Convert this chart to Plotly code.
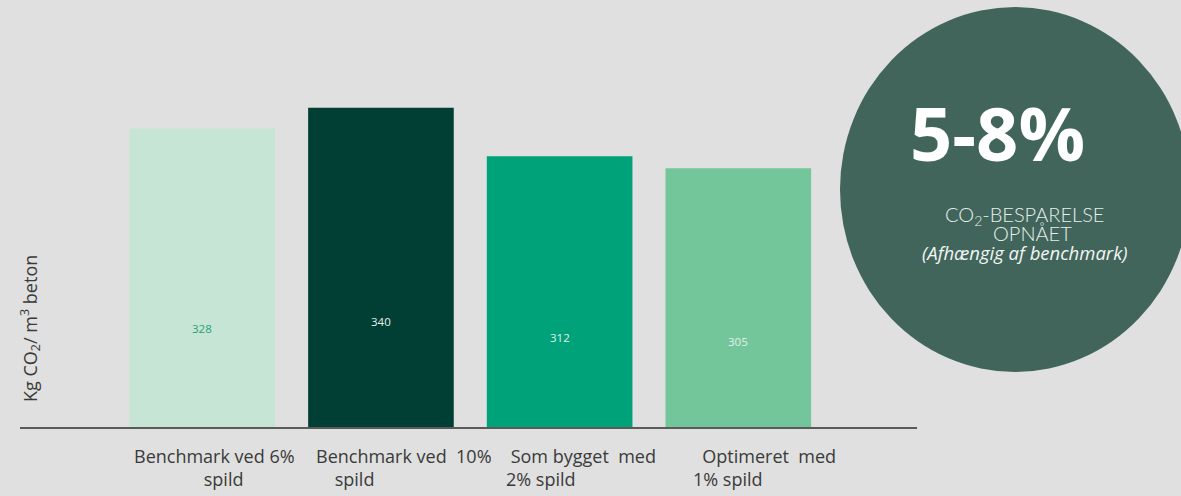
"""CO2 per m3 concrete: benchmark vs. as-built vs. optimised waste."""
import plotly.graph_objects as go

# data
categories = [
    "Benchmark ved 6% spild",
    "Benchmark ved 10% spild",
    "Som bygget med 2% spild",
    "Optimeret med 1% spild",
]
values = [328, 340, 312, 305]
tick_labels = [
    "Benchmark ved 6%<br>\u00a0\u00a0\u00a0\u00a0spild",
    "Benchmark ved\u00a0 10%<br>\u00a0\u00a0\u00a0\u00a0spild",
    "\u00a0Som bygget\u00a0 med<br>2%\u00a0spild",
    "\u00a0\u00a0Optimeret\u00a0 med<br>1%\u00a0spild",
]
headline = "5-8%"

# styling
W, H = 1181, 496
BG = "#dfe0df"
bar_colors = ["#c7e5d5", "#013e34", "#00a27a", "#73c699"]
label_colors = ["#1fa37a", "#e6efea", "#e6efea", "#e6efea"]
y_range = [155, 402.5]


def px(x):
    return x / W


def py(y):
    return 1 - y / H


def note(x, y, text, font, **kw):
    fig.add_annotation(
        x=px(x), y=py(y), xref="paper", yref="paper", text=text,
        showarrow=False, xanchor="center", yanchor="middle", font=font, **kw
    )


fig = go.Figure(
    go.Bar(
        x=categories,
        y=values,
        marker=dict(color=bar_colors, line=dict(width=0)),
        width=0.815,
        hoverinfo="x+y",
    )
)

# value labels about a third of the way up each bar
for cat, v, col in zip(categories, values, label_colors):
    fig.add_annotation(
        x=cat, y=y_range[0] + (v - y_range[0]) * 0.33, xref="x", yref="y",
        text=str(v), showarrow=False, xanchor="center", yanchor="middle",
        font=dict(family="Open Sans", size=11.5, color=col),
    )

# category labels under the axis (slightly irregular, like the original slide)
label_shift = [-70, -67, -56, -47]
label_align = ["center", "left", "left", "left"]
for cat, txt, dx, al in zip(categories, tick_labels, label_shift, label_align):
    fig.add_annotation(
        x=cat, y=py(442), xref="x", yref="paper",
        xanchor="left", yanchor="top", xshift=dx, align=al,
        text=txt, showarrow=False,
        font=dict(family="Open Sans", size=18, color="#3a3a3a"),
    )

# y title
note(30, 329, "Kg CO<sub>2</sub>/ m<sup>3</sup> beton",
     dict(family="Open Sans", size=18, color="#3a3a3a"), textangle=-90)

# savings bubble
fig.add_shape(
    type="circle", xref="paper", yref="paper",
    x0=px(840), x1=px(1190), y0=py(372), y1=py(7),
    fillcolor="#41655b", line=dict(width=0), layer="below",
)
note(997, 133, f"<b>{headline}</b>",
     dict(family="Open Sans", size=74, color="white"))
note(1024, 215, "CO<sub>2</sub>-BESPARELSE",
     dict(family="Lato", size=20, color="#e8eeeb", weight=300))
note(1032, 233, "OPNÅET",
     dict(family="Lato", size=20, color="#e8eeeb", weight=300))
note(1024, 252, "<i>(Afhængig af benchmark)</i>",
     dict(family="Open Sans", size=18.5, color="#f2f5f3"))

fig.update_xaxes(
    domain=[px(20), px(917)], range=[-1.02, 4.0],
    showticklabels=False, showgrid=False, zeroline=False,
    showline=True, linecolor="#5a5a5a", linewidth=2, ticks="",
)
fig.update_yaxes(
    domain=[py(427), 1], range=y_range,
    showticklabels=False, showgrid=False, zeroline=False, showline=False,
)
fig.update_layout(
    width=W, height=H,
    margin=dict(l=0, r=0, t=0, b=0),
    paper_bgcolor=BG, plot_bgcolor=BG,
    showlegend=False,
)

fig.write_html(
    "out.html",
    config={"displayModeBar": False},
    post_script="document.body.style.margin='0';document.body.style.overflow='hidden';",
)
